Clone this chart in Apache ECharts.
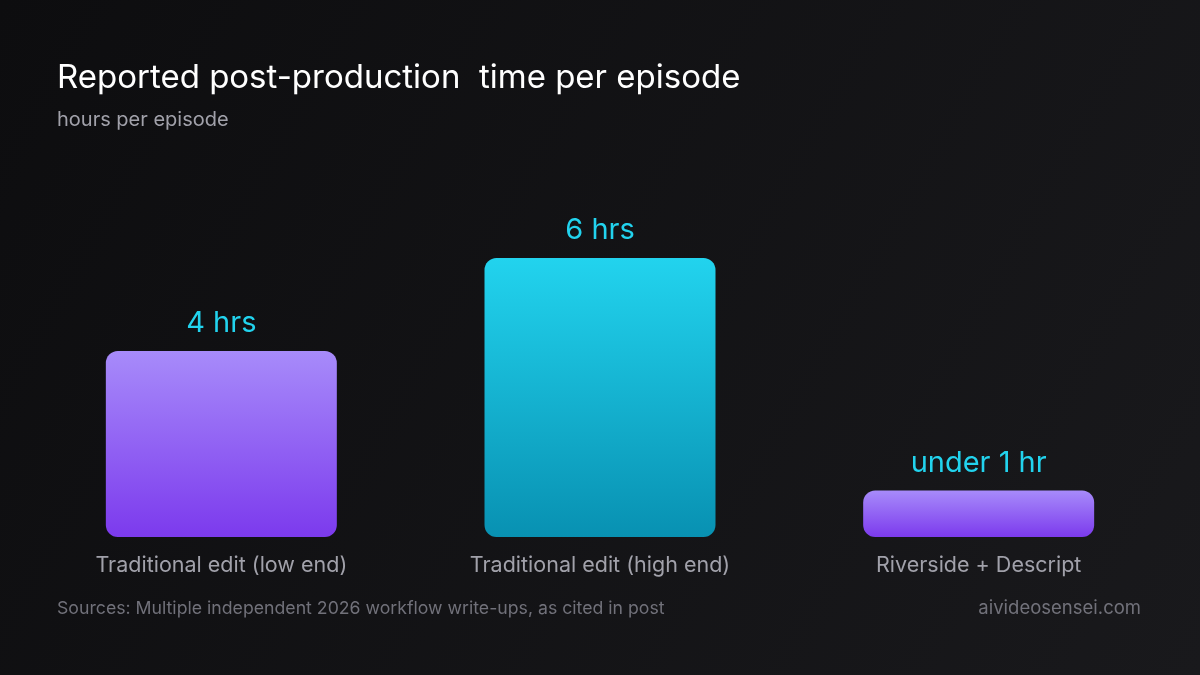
<!DOCTYPE html>
<html>
<head>
<meta charset="utf-8">
<script src="https://cdn.jsdelivr.net/npm/echarts@6/dist/echarts.min.js"></script>
<style>
html,body{margin:0;padding:0;background:#111113;}
#chart{width:1200px;height:675px;}
</style>
</head>
<body>
<div id="chart"></div>
<script>
const categories = ["Traditional edit (low end)", "Traditional edit (high end)", "Riverside + Descript"];
const hours = [4, 6, 1];
const valueLabels = ["4 hrs", "6 hrs", "under 1 hr"];
const barStyles = ["purple", "cyan", "purple"];

const titleText = "Reported post-production  time per episode";
const subtitleText = "hours per episode";
const sourceText = "Sources: Multiple independent 2026 workflow write-ups, as cited in post";
const brandText = "aivideosensei.com";

const FONT = "Inter, 'Noto Sans', sans-serif";

function grad(kind){
  const stops = kind === "cyan"
    ? [{offset:0,color:"#22d3ee"},{offset:1,color:"#0891b2"}]
    : [{offset:0,color:"#a78bfa"},{offset:1,color:"#7c3aed"}];
  return new echarts.graphic.LinearGradient(0,0,0,1,stops);
}

const chart = echarts.init(document.getElementById("chart"), null, {renderer:"canvas"});
chart.setOption({
  backgroundColor: new echarts.graphic.LinearGradient(0,0,1,1,[
    {offset:0,color:"#0d0d0f"},{offset:1,color:"#19191c"}
  ]),
  title: [
    {text: titleText, left: 57, top: 62, padding: 0,
     textStyle:{color:"#ffffff", fontSize:33, fontWeight:400, fontFamily:FONT}},
    {text: subtitleText, left: 57, top: 110, padding: 0,
     textStyle:{color:"#a1a1aa", fontSize:20, fontWeight:400, fontFamily:FONT}},
    {text: sourceText, left: 57, top: 600, padding: 0,
     textStyle:{color:"#71717a", fontSize:17.7, fontWeight:400, fontFamily:FONT}},
    {text: brandText, right: 59, top: 599, padding: 0,
     textStyle:{color:"#71717a", fontSize:18.5, fontWeight:400, fontFamily:FONT}}
  ],
  grid: {left: 32, right: 32, top: 165, bottom: 138, containLabel: false},
  xAxis: {
    type: "category",
    data: categories,
    axisLine:{show:false}, axisTick:{show:false},
    axisLabel:{color:"#a1a1aa", fontSize:21.5, fontFamily:FONT, margin:18, interval:0}
  },
  yAxis: {
    type: "value", min: 0, max: 8, interval: 2,
    show: false, splitLine:{show:false}
  },
  series: [{
    type: "bar",
    barWidth: "61%",
    data: hours.map((v,i)=>({
      value: v,
      itemStyle:{color: grad(barStyles[i]), borderRadius: 12},
      label:{formatter: valueLabels[i]}
    })),
    label: {
      show: true, position: "top", distance: 13,
      color: "#22d3ee", fontSize: 29, fontFamily: FONT
    }
  }]
});
</script>
</body>
</html>
